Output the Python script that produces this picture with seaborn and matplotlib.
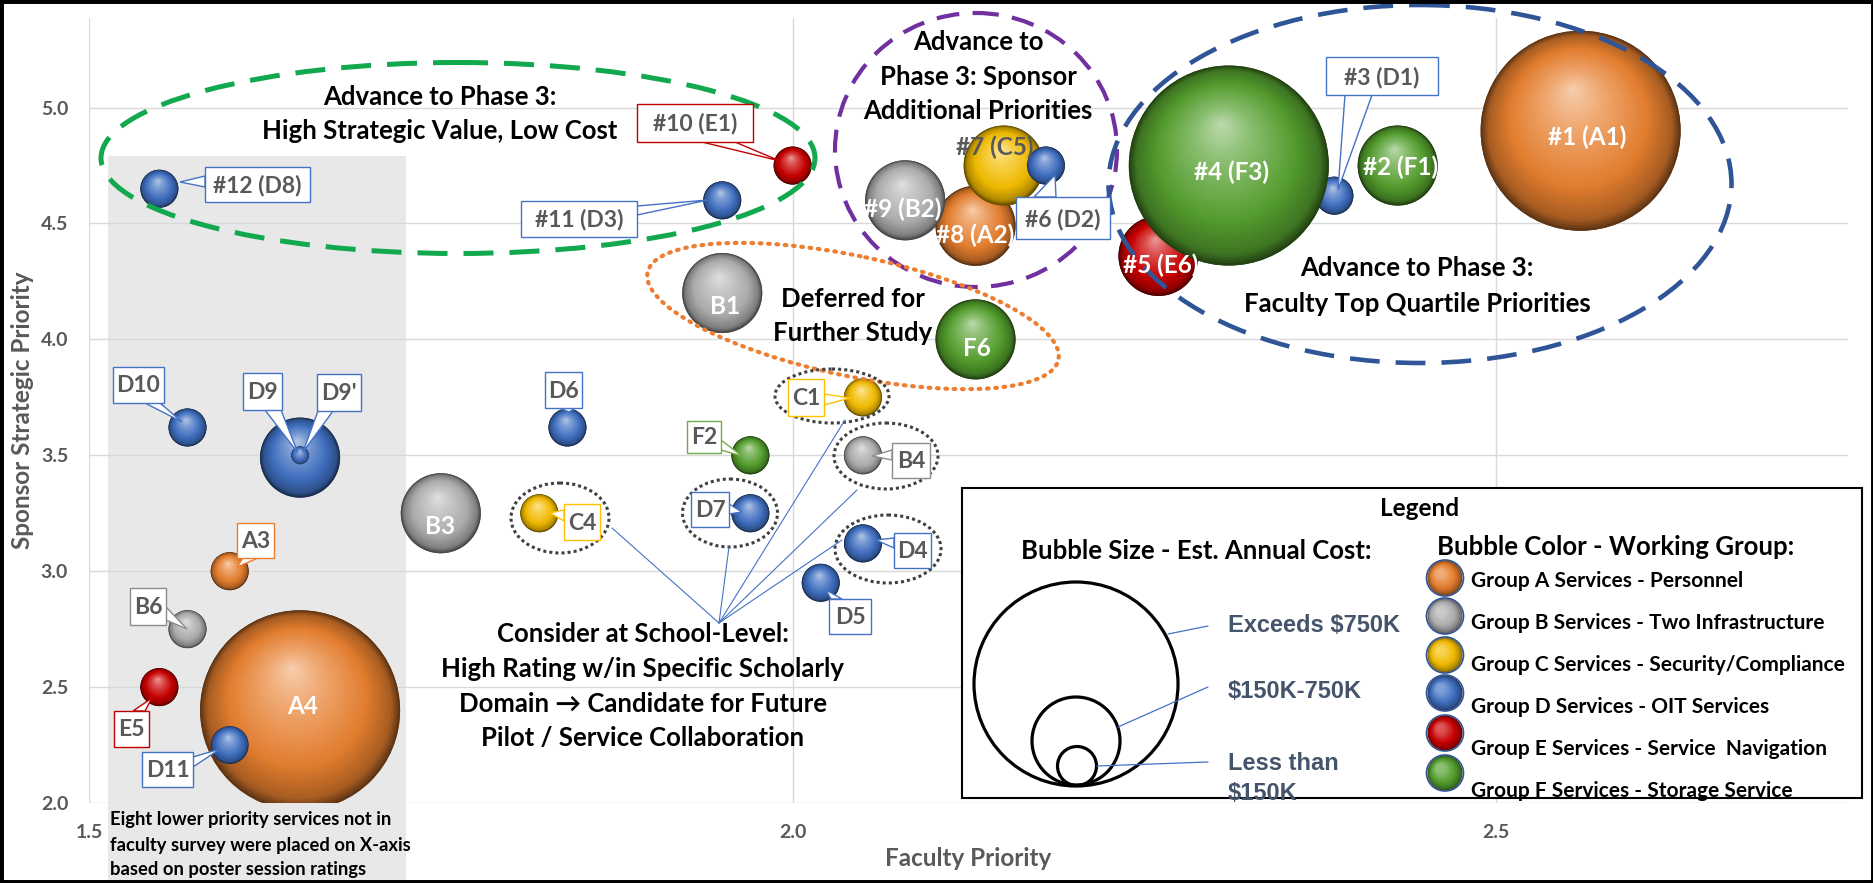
import numpy as np
import pandas as pd
import matplotlib
matplotlib.use("Agg")
import matplotlib.pyplot as plt
import seaborn as sns
from matplotlib.patches import Ellipse, Rectangle, Polygon
from matplotlib.colors import to_rgb

# ---------------- data ----------------
services = ["#1 (A1)", "#2 (F1)", "#3 (D1)", "#5 (E6)", "#4 (F3)", "#8 (A2)", "#9 (B2)",
            "#7 (C5)", "#6 (D2)", "#10 (E1)", "#11 (D3)", "#12 (D8)", "B1", "F6", "D10",
            "D9", "D9'", "D6", "C1", "F2", "B4", "B3", "C4", "D7", "D4", "D5", "A3", "B6",
            "E5", "A4", "D11"]
faculty_priority = [2.56, 2.43, 2.385, 2.26, 2.31, 2.13, 2.08, 2.15, 2.18, 2.00, 1.95, 1.55,
                    1.95, 2.13, 1.57, 1.65, 1.65, 1.84, 2.05, 1.97, 2.05, 1.75, 1.82, 1.97,
                    2.05, 2.02, 1.60, 1.57, 1.55, 1.65, 1.60]
sponsor_priority = [4.90, 4.75, 4.62, 4.36, 4.75, 4.49, 4.60, 4.75, 4.75, 4.75, 4.60, 4.65,
                    4.20, 4.00, 3.62, 3.49, 3.50, 3.62, 3.75, 3.50, 3.50, 3.25, 3.25, 3.25,
                    3.12, 2.95, 3.00, 2.75, 2.50, 2.40, 2.25]
working_group = ["A", "F", "D", "E", "F", "A", "B", "C", "D", "E", "D", "D", "B", "F", "D",
                 "D", "D", "D", "C", "F", "B", "B", "C", "D", "D", "D", "A", "B", "E", "A", "D"]
cost_class = ["Exceeds $750K", "$150K-750K", "Less than $150K", "$150K-750K", "Exceeds $750K",
              "$150K-750K", "$150K-750K", "$150K-750K", "Less than $150K", "Less than $150K",
              "Less than $150K", "Less than $150K", "$150K-750K", "$150K-750K", "Less than $150K",
              "$150K-750K", "Minimal", "Less than $150K", "Less than $150K", "Less than $150K",
              "Less than $150K", "$150K-750K", "Less than $150K", "Less than $150K",
              "Less than $150K", "Less than $150K", "Less than $150K", "Less than $150K",
              "Less than $150K", "Exceeds $750K", "Less than $150K"]
group_order = ["A", "B", "C", "D", "E", "F"]
group_names = ["Group A Services - Personnel", "Group B Services - Two Infrastructure",
               "Group C Services - Security/Compliance", "Group D Services - OIT Services",
               "Group E Services - Service  Navigation", "Group F Services - Storage Service"]
cost_levels = ["Exceeds $750K", "$150K-750K", "Less than $150K", "Minimal"]
x_ticks = [1.5, 2.0, 2.5]
y_ticks = [2.0, 2.5, 3.0, 3.5, 4.0, 4.5, 5.0]

# ---------------- style ----------------
group_colors = {"A": "#E8802F", "B": "#B0B0B0", "C": "#F5BE00",
                "D": "#4070C2", "E": "#CC0000", "F": "#55A02E"}
edge_colors = {"A": "#ED7D31", "B": "#8C8C8C", "C": "#FFC000",
               "D": "#4472C4", "E": "#C00000", "F": "#70AD47"}
radius_px = {"Exceeds $750K": 100, "$150K-750K": 40, "Less than $150K": 19, "Minimal": 9}
GRAY = "#595959"

sns.set_theme(style="whitegrid")
plt.rcParams["font.family"] = ["Lato", "DejaVu Sans"]

W, H = 1874, 883
fig = plt.figure(figsize=(W / 100, H / 100), dpi=100, facecolor="white")
L, R, T, B = 89, 1848, 18, 803
ax = fig.add_axes([L / W, (H - B) / H, (R - L) / W, (B - T) / H])
YMAX = 2.0 + (B - T) / 231.8
ax.set_xlim(1.5, 2.75)
ax.set_ylim(2.0, YMAX)


def px2data(px, py):
    return (1.5 + (px - L) / (R - L) * 1.25, 2.0 + (B - py) / (B - T) * (YMAX - 2.0))


WHITE = np.array([1.0, 1.0, 1.0])


def sphere_cols(base, ts, dark_f=0.42, light=0.62):
    b = np.array(to_rgb(base))
    knots = [0.0, 0.07, 0.3, 0.72, 1.0]
    cols = [b * dark_f, b * 0.72, b * 0.97, b * 0.68 + WHITE * 0.32,
            b * (1 - light) + WHITE * light]
    cols = np.array(cols)
    out = np.stack([np.interp(ts, knots, cols[:, k]) for k in range(3)], axis=1)
    return np.clip(out, 0, 1)


def draw_sphere(axis, x, y, r, base, z, hl=(-0.08, 0.42), n=40, dark_f=0.42, light=0.62):
    p0 = axis.transData.transform((x, y))
    p1 = axis.transData.transform((x + 1, y + 1))
    ppx_, ppy_ = p1 - p0
    ts = np.linspace(0, 0.97, n)
    radii = r * (1 - ts)
    xs = x + ts * hl[0] * r / ppx_
    ys = y + ts * hl[1] * r / ppy_
    sizes = (2 * radii * 72 / fig.dpi) ** 2
    axis.scatter(xs, ys, s=sizes, c=sphere_cols(base, ts, dark_f, light),
                 linewidths=0, zorder=z, marker="o")


df = pd.DataFrame({"service": services, "faculty": faculty_priority,
                   "sponsor": sponsor_priority, "group": working_group, "cost": cost_class})

size_map = {k: (2 * v * 72 / 100) ** 2 for k, v in radius_px.items()}
rim_palette = {g: tuple(np.array(to_rgb(c)) * 0.42) for g, c in group_colors.items()}

# grey band for services not in faculty survey
x0, ytop = px2data(108, 156)
x1, ybot = px2data(406, 882)
ax.add_patch(Rectangle((x0, ybot), x1 - x0, ytop - ybot, facecolor="#E8E8E8",
                       edgecolor="none", zorder=0.2, clip_on=False))

sns.scatterplot(data=df, x="faculty", y="sponsor", hue="group", size="cost",
                hue_order=group_order, size_order=cost_levels, palette=rim_palette,
                sizes=size_map, legend=False, linewidth=0, ax=ax, zorder=2)

for i, row in df.iterrows():
    draw_sphere(ax, row.faculty, row.sponsor, radius_px[row.cost],
                group_colors[row.group], z=3 + i * 0.01,
                n=50 if radius_px[row.cost] > 50 else 32)

ax.set_axisbelow(True)
ax.grid(True, color="#D9D9D9", linewidth=1.0)
for s in ax.spines.values():
    s.set_visible(False)
ax.set_xticks(x_ticks)
ax.set_yticks(y_ticks)
ax.set_xticklabels([f"{v:.1f}" for v in x_ticks])
ax.set_yticklabels([f"{v:.1f}" for v in y_ticks])
ax.tick_params(axis="both", length=0, labelsize=14, labelcolor=GRAY)
ax.tick_params(axis="y", pad=15)
ax.tick_params(axis="x", pad=15)
for lbl in ax.get_xticklabels() + ax.get_yticklabels():
    lbl.set_fontweight("bold")
ax.set_xlabel("Faculty Priority", fontsize=17.5, fontweight="bold", color=GRAY)
ax.set_ylabel("Sponsor Strategic Priority", fontsize=17.5, fontweight="bold", color=GRAY)
ax.xaxis.set_label_coords(0.5, -(858 - B) / (B - T))
ax.xaxis.label.set_va("center")
ax.yaxis.set_label_coords((23 - L) / (R - L), 0.5)
ax.yaxis.label.set_va("center")
ax.yaxis.label.set_ha("center")

# ---------------- overlay (pixel coordinates of the picture) ----------------
ov = fig.add_axes([0, 0, 1, 1], zorder=5)
ov.set_xlim(0, W)
ov.set_ylim(H, 0)
ov.axis("off")

# group ellipses
ov.add_patch(Ellipse((458, 158), 714, 191, fill=False, ec="#12A84E", lw=3.6,
                     linestyle=(0, (6, 3.2))))
ov.add_patch(Ellipse((976, 150), 282, 274, fill=False, ec="#7030A0", lw=3.0,
                     linestyle=(0, (5.5, 3.2))))
ov.add_patch(Ellipse((1420, 184), 623, 358, fill=False, ec="#2F5597", lw=3.3,
                     linestyle=(0, (6.5, 3.5))))
ov.add_patch(Ellipse((853, 316), 420, 120, angle=12, fill=False, ec="#ED7D31", lw=3.0,
                     linestyle=(0, (0.4, 1.6)), capstyle="round"))
for (cx, cy, ew, eh) in [(832, 396, 114, 54), (886, 456, 104, 66), (560, 518, 98, 70),
                         (730, 513, 95, 68), (888, 549, 106, 68)]:
    ov.add_patch(Ellipse((cx, cy), ew, eh, fill=False, ec="#404040", lw=2.2,
                         linestyle=(0, (1, 1))))

# school-level fan lines
for tip in [(612, 528), (729, 547), (845, 420), (857, 490), (842, 540)]:
    ov.plot([719, tip[0]], [623, tip[1]], color="#4472C4", lw=0.8, zorder=4)

# callouts: text, box(x0,y0,x1,y1), pointer base points, tip
idx = {s: i for i, s in enumerate(services)}
callouts = [
    ("#12 (D8)", (205, 167, 310, 202), [(205, 176), (205, 187)], (180, 182)),
    ("#11 (D3)", (521, 201, 637, 237), [(637, 206), (637, 215)], (708, 200)),
    ("#10 (E1)", (637, 104, 753, 142), [(702, 142), (735, 142)], (780, 161)),
    ("#3 (D1)", (1326, 57, 1438, 95), [(1345, 95), (1372, 95)], (1338, 190)),
    ("#6 (D2)", (1016, 197, 1110, 239), [(1034, 197), (1056, 197)], (1055, 175)),
    ("D10", (113, 367, 164, 403), [(145, 403), (160, 403)], (182, 422)),
    ("D9", (243, 373, 282, 410), [(265, 410), (281, 410)], (298, 453)),
    ("D9'", (317, 374, 361, 411), [(318, 411), (333, 411)], (303, 452)),
    ("D6", (545, 372, 582, 408), [(560, 408), (575, 408)], (569, 412)),
    ("C1", (788, 379, 824, 416), [(824, 394), (824, 405)], (850, 398)),
    ("F2", (687, 421, 721, 453), [(721, 440), (721, 450)], (742, 456)),
    ("B4", (892, 443, 930, 478), [(892, 450), (892, 460)], (872, 456)),
    ("C4", (564, 504, 600, 540), [(564, 510), (564, 521)], (550, 513)),
    ("D7", (691, 492, 729, 527), [(729, 504), (729, 514)], (742, 512)),
    ("D4", (894, 533, 931, 568), [(894, 538), (894, 548)], (876, 540)),
    ("D5", (829, 599, 871, 634), [(831, 599), (842, 599)], (826, 590)),
    ("A3", (237, 523, 274, 558), [(243, 558), (258, 558)], (237, 567)),
    ("B6", (130, 588, 166, 625), [(166, 607), (166, 620)], (187, 629)),
    ("E5", (114, 711, 149, 747), [(133, 711), (145, 711)], (152, 698)),
    ("D11", (142, 752, 193, 787), [(193, 757), (193, 767)], (220, 749)),
]
for text, (bx0, by0, bx1, by1), base, tip in callouts:
    col = edge_colors[working_group[idx[text]]]
    ov.add_patch(Polygon([base[0], tip, base[1]], closed=True, fc="white", ec=col,
                         lw=1.0, zorder=6))
    ov.add_patch(Rectangle((bx0, by0), bx1 - bx0, by1 - by0, fc="white", ec=col,
                           lw=1.0, zorder=7))
    ov.text((bx0 + bx1) / 2, (by0 + by1) / 2 + 1, text, ha="center", va="center",
            fontsize=16.5, fontweight="bold", color=GRAY, zorder=8)

# labels inside bubbles
inside = [("#1 (A1)", 1587, 137, "white"), ("#4 (F3)", 1232, 172, "white"),
          ("#2 (F1)", 1401, 167, "white"), ("#5 (E6)", 1161, 265, "white"),
          ("#8 (A2)", 975, 235, "white"), ("#9 (B2)", 903, 209, "white"),
          ("#7 (C5)", 995, 147, GRAY), ("B1", 725, 307, "white"),
          ("F6", 977, 348, "white"), ("B3", 440, 527, "white"), ("A4", 303, 707, "white")]
for text, tx, ty, tc in inside:
    ov.text(tx, ty, text, ha="center", va="center", fontsize=17.5, fontweight="bold",
            color=tc, zorder=8)

# region annotations
notes = [
    ("Advance to Phase 3:", 440, 97), ("High Strategic Value, Low Cost", 440, 131),
    ("Advance to", 978, 42), ("Phase 3: Sponsor", 978, 77), ("Additional Priorities", 978, 111),
    ("Advance to Phase 3:", 1417, 268), ("Faculty Top Quartile Priorities", 1417, 304),
    ("Deferred for", 853, 299), ("Further Study", 853, 333),
    ("Consider at School-Level:", 643, 634), ("High Rating w/in Specific Scholarly", 643, 669),
    ("Domain \u2192 Candidate for Future", 643, 704), ("Pilot / Service Collaboration", 643, 738),
]
for text, tx, ty in notes:
    ov.text(tx, ty, text, ha="center", va="center", fontsize=18.5, fontweight="bold",
            color="black", zorder=8)

for k, line in enumerate(["Eight lower priority services not in",
                          "faculty survey were placed on X-axis",
                          "based on poster session ratings"]):
    ov.text(110, 820 + 25 * k, line, ha="left", va="center", fontsize=13.2,
            fontweight="bold", color="black", zorder=8)

# ---------------- legend ----------------
ov.add_patch(Rectangle((962, 488), 900, 310, fc="white", ec="black", lw=1.5, zorder=6))
ov.text(1420, 509, "Legend", ha="center", va="center", fontsize=17.5, fontweight="bold",
        color="black", zorder=8)
ov.text(1196, 551, "Bubble Size - Est. Annual Cost:", ha="center", va="center",
        fontsize=18.5, fontweight="bold", color="black", zorder=8)
ov.text(1616, 547, "Bubble Color - Working Group:", ha="center", va="center",
        fontsize=18.5, fontweight="bold", color="black", zorder=8)

for (cx, cy, r) in [(1076, 684, 102), (1076, 741, 44), (1077, 766, 19.5)]:
    ov.add_patch(Ellipse((cx, cy), 2 * r, 2 * r, fill=False, ec="black", lw=2.3, zorder=7))
for (a, b) in [((1168, 634), (1208, 626)), ((1118, 727), (1208, 687)),
               ((1097, 766), (1208, 762))]:
    ov.plot([a[0], b[0]], [a[1], b[1]], color="#4472C4", lw=0.9, zorder=7)
size_text = [(cost_levels[0].replace("$", "\\$"), 625),
             (cost_levels[1].replace("$", "\\$"), 692),
             ("Less than", 763), ("\\$150K", 793)]
for text, ty in size_text:
    ov.text(1228, ty, text, ha="left", va="center", fontsize=17, fontweight="bold",
            color="#44546A", family="Liberation Sans", zorder=8)

circ_y = [578, 616, 655, 693, 733, 773]
text_y = [581, 623, 665, 707, 749, 791]
for g, name, cy, ty in zip(group_order, group_names, circ_y, text_y):
    ov.add_patch(Ellipse((1445, cy), 37, 36, fc="none", ec="#2F528F", lw=1.2, zorder=7.5))
    draw_sphere(ov, 1445, cy, 17.5, group_colors[g], z=7.2, hl=(-0.35, 0.35), n=18,
                dark_f=0.55, light=0.35)
    ov.text(1471, ty, name, ha="left", va="center", fontsize=15, fontweight="bold",
            color="black", zorder=8)

fig.add_artist(Rectangle((0, 0), 1, 1, transform=fig.transFigure, fill=False,
                         ec="black", lw=5, zorder=20))

fig.savefig("out.png", dpi=100, facecolor="white")
